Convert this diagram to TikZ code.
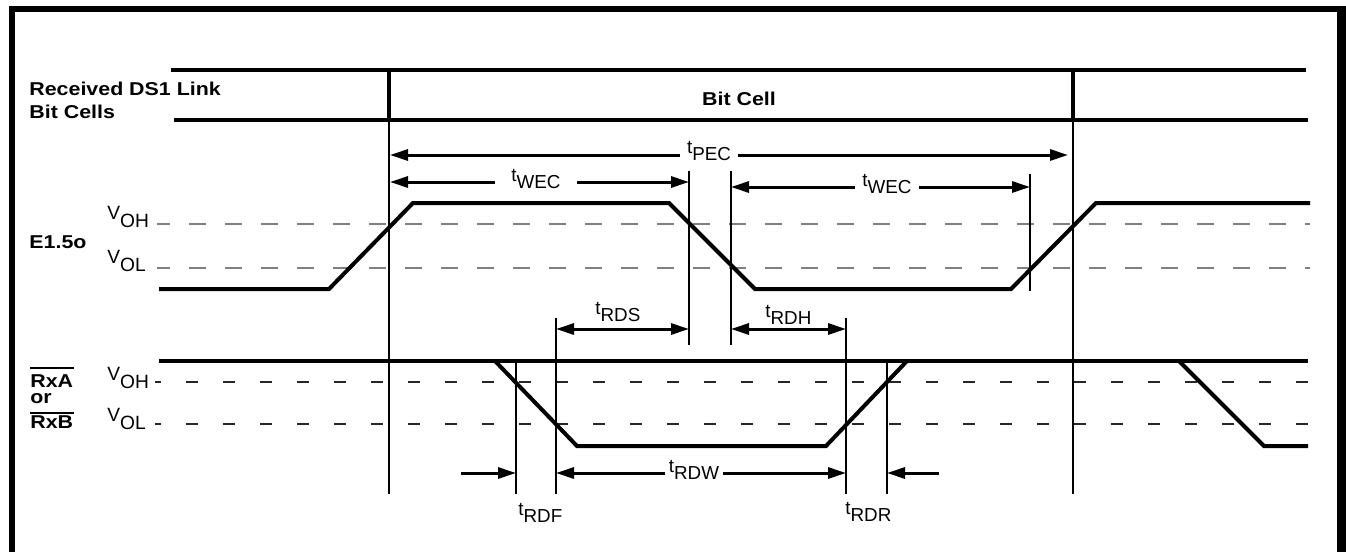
\documentclass[tikz,border=0pt]{standalone}
\usepackage{fontspec}
\setmainfont{Liberation Sans}
\newfontfamily\lblfont[FakeStretch=1.15]{Liberation Sans}
\usetikzlibrary{arrows.meta}
\newcommand{\tlab}[1]{t\raisebox{-3.5pt}{#1}}
\newcommand{\vlab}[1]{V\raisebox{-4pt}{#1}}
\begin{document}
\begin{tikzpicture}[x=0.5pt,y=-0.5pt,
  frame/.style={line width=3pt},
  wave/.style={line width=2pt},
  cellline/.style={line width=2pt},
  guide/.style={line width=1pt},
  tip/.tip={Triangle[length=9pt,width=5.5pt]},
  dimone/.style={line width=1.5pt,-tip},
  dimboth/.style={line width=1.5pt,tip-tip},
  levelA/.style={black!50,line width=0.65pt,dash pattern=on 8.5pt off 9.5pt,dash phase=2pt},
  levelB/.style={black!85,line width=0.6pt,dash pattern=on 6pt off 12.5pt,dash phase=3pt},
  sig/.style={font=\lblfont\bfseries\fontsize{9.3}{11}\selectfont,inner sep=0pt,anchor=base west},
  vtxt/.style={font=\fontsize{9.6}{11}\selectfont,inner sep=0pt,anchor=base west},
  ttxt/.style={font=\fontsize{9.4}{11}\selectfont,inner sep=0pt},
  gap/.style={ttxt,fill=white,inner ysep=0pt,anchor=base},
]
\useasboundingbox (0,0) rectangle (1346,552);
% frame
\draw[frame] (12,552) -- (12,9) -- (1346,9);
\draw[line width=5pt] (1342,9) -- (1342,552);

% bit cell row
\draw[cellline] (171,70) -- (1306,70);
\draw[cellline] (174,120) -- (1308,120);
\draw[cellline] (389,70) -- (389,120);
\draw[cellline] (1073,70) -- (1073,120);
\node[sig] (rx1) at (29,95) {Received DS1 Link};
\node[sig] (rx2) at (29,118) {Bit Cells};
\node[sig,anchor=base] (bitcell) at (739,105) {Bit Cell};

% level guides
\draw[levelA] (157,224) -- (1310,224);
\draw[levelA] (157,268) -- (1310,268);
\draw[levelB] (155,382) -- (1308,382);
\draw[levelB] (155,424) -- (1308,424);

% signal names
\node[sig] (e15) at (29,248) {E1.5o};
\node[sig] (rxa) at (30,387) {RxA};
\node[sig] (or) at (30,403) {or};
\node[sig] (rxb) at (30,428) {RxB};
\draw[line width=1pt] ([yshift=9.5pt]rxa.base west) -- ([yshift=9.5pt]rxa.base east);
\draw[line width=1pt] ([yshift=7.7pt]rxb.base west) -- ([yshift=7.7pt]rxb.base east);
\node[vtxt] (voh1) at (107,219) {\vlab{OH}};
\node[vtxt] (vol1) at (107,263) {\vlab{OL}};
\node[vtxt] (voh2) at (107,380) {\vlab{OH}};
\node[vtxt] (vol2) at (107,421) {\vlab{OL}};

% reference verticals
\draw[guide] (389,120) -- (389,494);
\draw[guide] (1073,120) -- (1073,494);
\draw[guide] (689,171) -- (689,345);
\draw[guide] (731,171) -- (731,345);
\draw[guide] (1030,174) -- (1030,291);
\draw[guide] (516,362) -- (516,494);
\draw[guide] (556,318) -- (556,494);
\draw[guide] (846,318) -- (846,494);
\draw[guide] (887,362) -- (887,494);

% waveforms
\draw[wave] (159,289) -- (329,289) -- (413,203) -- (669,203) -- (755,289) -- (1011,289) -- (1096,203) -- (1310,203);
\draw[wave] (159,361) -- (1308,361);
\draw[wave] (495,361) -- (577,446) -- (826,446) -- (907,361);
\draw[wave] (1179,361) -- (1264,446) -- (1308,446);

% dimension coordinates
\coordinate (pecL) at (390,155);
\coordinate (pecR) at (1068,155);
\coordinate (wec1L) at (390,182);
\coordinate (wec1R) at (689,182);
\coordinate (wec2L) at (731,187);
\coordinate (wec2R) at (1030,187);
\coordinate (rdsL) at (556,329);
\coordinate (rdsR) at (689,329);
\coordinate (rdhL) at (731,329);
\coordinate (rdhR) at (846,329);
\coordinate (rdwL) at (556,473);
\coordinate (rdwR) at (846,473);
\coordinate (rdfS) at (461,473);
\coordinate (rdfE) at (516,473);
\coordinate (rdrS) at (939,473);
\coordinate (rdrE) at (887,473);

\draw[dimboth] (pecL) -- (pecR);
\draw[dimboth] (wec1L) -- (wec1R);
\draw[dimboth] (wec2L) -- (wec2R);
\draw[dimboth] (rdsL) -- (rdsR);
\draw[dimboth] (rdhL) -- (rdhR);
\draw[dimboth] (rdwL) -- (rdwR);
\draw[dimone] (rdfS) -- (rdfE);
\draw[dimone] (rdrS) -- (rdrE);

% timing labels
\node[gap,inner xsep=3.5pt] (tpec) at (709,153) {\tlab{PEC}};
\node[gap,inner xsep=8pt] (twec1) at (536,181) {\tlab{WEC}};
\node[gap,inner xsep=3.5pt] (twec2) at (887,186) {\tlab{WEC}};
\node[gap,inner xsep=2pt] (trdw) at (694,472) {\tlab{RDW}};
\node[ttxt,anchor=base west] (trds) at (595,314) {\tlab{RDS}};
\node[ttxt,anchor=base west] (trdh) at (765,317) {\tlab{RDH}};
\node[ttxt,anchor=base west] (trdf) at (518,515) {\tlab{RDF}};
\node[ttxt,anchor=base west] (trdr) at (845,514) {\tlab{RDR}};
\end{tikzpicture}
\end{document}
